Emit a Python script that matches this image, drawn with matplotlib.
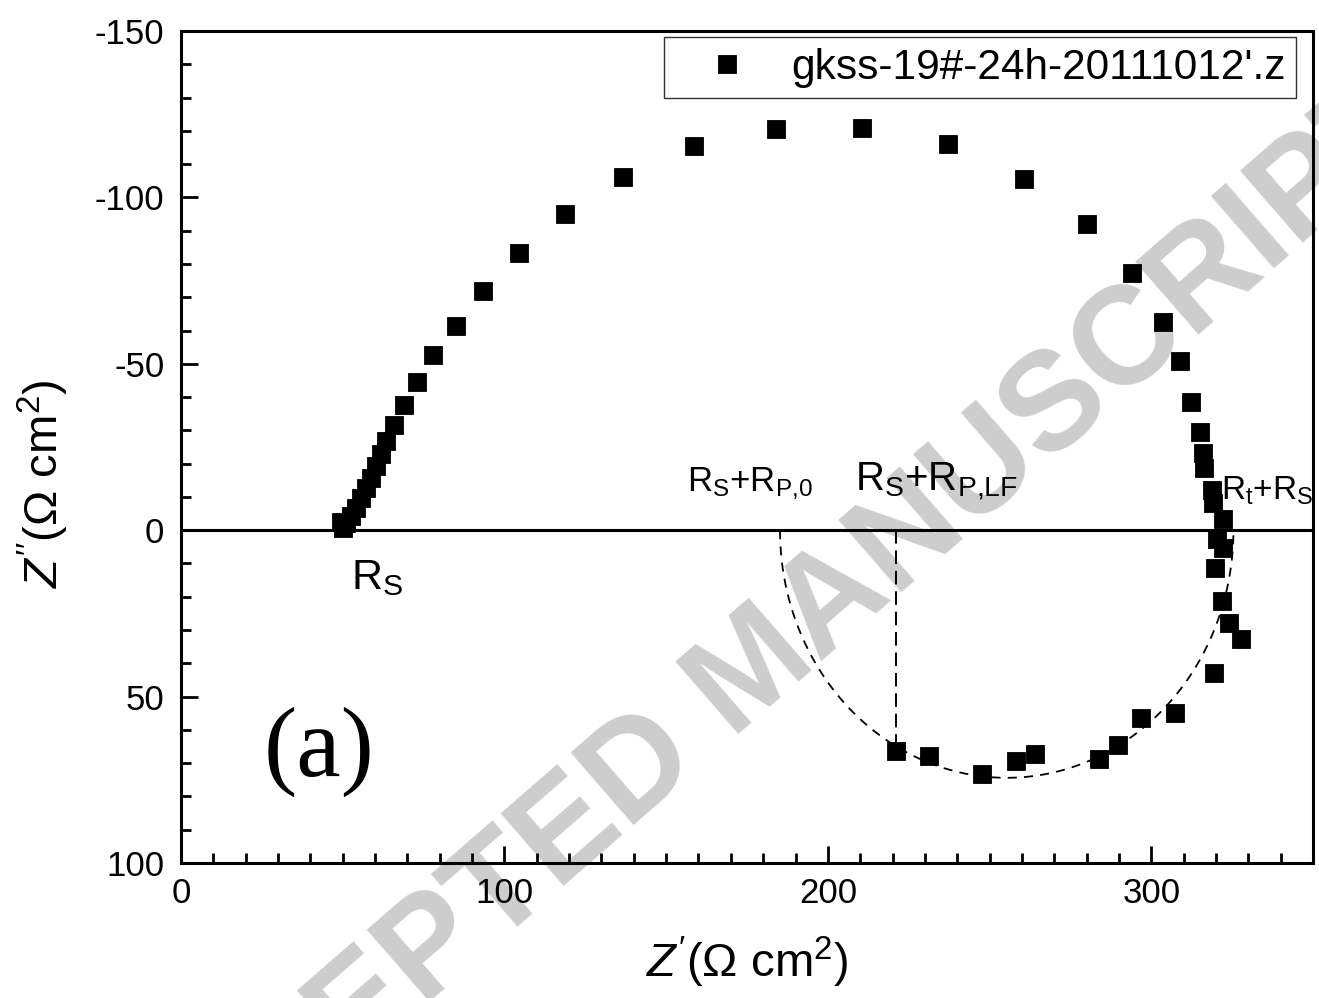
import numpy as np
import matplotlib
matplotlib.use("Agg")
import matplotlib.pyplot as plt
from matplotlib.ticker import MultipleLocator

plt.rcParams['font.family'] = ['Liberation Sans', 'DejaVu Sans']
plt.rcParams['mathtext.fontset'] = 'custom'
plt.rcParams['mathtext.rm'] = 'Liberation Sans'
plt.rcParams['mathtext.it'] = 'Liberation Sans:italic'
plt.rcParams['mathtext.bf'] = 'Liberation Sans:bold'
plt.rcParams['axes.unicode_minus'] = False

# ---- data ----
series_name = "gkss-19#-24h-20111012'.z"
z_real = [49.5, 50.0, 50.9, 52.5, 54.0, 55.6, 57.1, 58.6, 60.2, 61.7, 63.3,
          65.8, 68.9, 73.1, 77.9, 84.9, 93.3, 104.4, 118.6, 136.8, 158.6,
          183.9, 210.7, 237.1, 260.5, 280.0, 293.9, 303.5, 308.9, 312.2,
          315.1, 316.0, 316.4, 318.9, 319.1, 322.3, 320.3, 322.3, 319.7,
          321.8, 324.1, 327.7, 319.4, 307.4, 296.8, 289.8, 283.7, 264.1,
          258.2, 247.7, 231.4, 221.0]
z_imag = [-2.5, -0.6, -2.1, -4.2, -6.6, -9.6, -12.7, -15.7, -19.3, -22.9, -26.8,
          -31.5, -37.6, -44.6, -52.6, -61.5, -72.0, -83.2, -94.9, -106.1, -115.4,
          -120.7, -121.0, -115.9, -105.5, -92.0, -77.3, -62.7, -50.9, -38.5,
          -29.6, -23.1, -18.8, -12.0, -8.2, -3.5, 2.6, 5.3, 11.5,
          21.4, 27.9, 32.7, 42.8, 54.8, 56.5, 64.4, 68.6, 67.1,
          69.4, 73.2, 67.7, 66.4]

# fitted low-frequency arc (dashed): centre and radii in data units
arc_center = 255.3
arc_rx = 70.1
arc_ry = 74.4

x_ticks = [0, 100, 200, 300]
y_ticks = [-150, -100, -50, 0, 50, 100]

# ---- figure ----
fig = plt.figure(figsize=(13.19, 9.98), dpi=100)
ax = fig.add_axes([181/1319, 1 - 863/998, (1313 - 181)/1319, (863 - 31)/998])

# watermark behind the data
ax.text(755/1319, 1 - 672/998, "ACCEPTED MANUSCRIPT", transform=fig.transFigure,
        rotation=41, rotation_mode='anchor', ha='center', va='center',
        fontsize=100, fontweight='bold', color='#cdcdcd', zorder=0.5,
        clip_on=False, family='Liberation Sans')

ax.axhline(0, color='black', lw=2.2, zorder=1)

theta = np.linspace(0, np.pi, 300)
ax.plot(arc_center - arc_rx * np.cos(theta), arc_ry * np.sin(theta),
        color='black', lw=1.3, linestyle=(0, (5, 4)), zorder=2)
ax.plot([z_real[-1], z_real[-1]], [0, z_imag[-1]], color='black', lw=1.4,
        linestyle=(0, (7, 3.5)), zorder=2)

ax.plot(z_real, z_imag, linestyle='none', marker='s', markersize=12.5,
        color='black', mew=0.6, label=series_name, zorder=3)

ax.set_xlim(0, 350)
ax.set_ylim(100, -150)
ax.set_xticks(x_ticks)
ax.set_yticks(y_ticks)
ax.xaxis.set_minor_locator(MultipleLocator(10))
ax.yaxis.set_minor_locator(MultipleLocator(10))
ax.tick_params(which='both', direction='in', top=False, right=False, width=2.0)
ax.tick_params(which='major', length=12.5, labelsize=25)
ax.tick_params(axis='x', which='major', pad=10)
ax.tick_params(axis='y', which='major', pad=12)
ax.tick_params(which='minor', length=7)
for s in ax.spines.values():
    s.set_linewidth(2.2)

ax.set_xlabel(r"$Z'$(Ω cm$^2$)", fontsize=34, labelpad=18)
ax.set_ylabel(r"$Z''$(Ω cm$^2$)", fontsize=34)
ax.yaxis.set_label_coords(-0.097, 0.4555)

# annotations
ax.text(52.5, 17.8, r"R$_\mathrm{S}$", fontsize=31, ha='left', va='baseline')
ax.text(156.5, -11.7, r"R$_\mathrm{S}$+R$_\mathrm{P{,}0}$", fontsize=25,
        ha='left', va='baseline')
ax.text(208.3, -11.7, r"R$_\mathrm{S}$+R$_\mathrm{P{,}LF}$", fontsize=29,
        ha='left', va='baseline')
ax.text(321.6, -9.3, r"R$_\mathrm{t}$+R$_\mathrm{S}$", fontsize=24,
        ha='left', va='baseline', clip_on=False)
ax.text(42.6, 66.6, "(a)", fontsize=72, family='Liberation Serif',
        ha='center', va='center')

leg = ax.legend(loc='upper right', bbox_to_anchor=(1296/1319, 1 - 37/998),
                bbox_transform=fig.transFigure, borderaxespad=0,
                fontsize=30.5, frameon=True, fancybox=False, numpoints=1,
                handlelength=2.5, handletextpad=0.25, borderpad=0.25)
leg.get_frame().set_edgecolor('black')
leg.get_frame().set_linewidth(1.0)

fig.savefig("out.png", dpi=100)
